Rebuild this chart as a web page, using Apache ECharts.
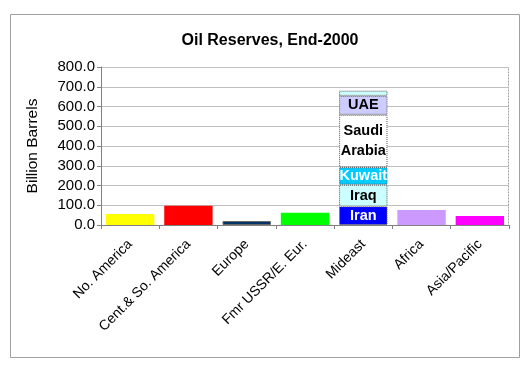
<!DOCTYPE html>
<html><head><meta charset="utf-8">
<script src="https://cdn.jsdelivr.net/npm/echarts@6/dist/echarts.min.js"></script>
<style>html,body{margin:0;padding:0;background:#fff}#c{width:528px;height:369px}</style>
</head><body><div id="c"></div>
<script>
var categories = ['No. America','Cent.& So. America','Europe','Fmr USSR/E. Eur.','Mideast','Africa','Asia/Pacific'];
var regionValues = [56, 98, 20, 62, null, 76, 45];
var regionColors = ['#ffff00','#ff0000','#003366','#00ff00',null,'#cc99ff','#ff00ff'];
var mideastNames = ['Iran','Iraq','Kuwait','Saudi\nArabia','UAE','Other'];
var mideastValues = [94, 110, 89, 265, 96, 26];
var mideastColors = ['#0000ff','#ccffff','#00ccff','#ffffff','#ccccff','#ccffff'];
var mideastLabelColors = ['#ffffff','#000000','#ffffff','#000000','#000000',null];
var yTicks = [0,100,200,300,400,500,600,700,800];

var chart = echarts.init(document.getElementById('c'));
var mideastIdx = categories.indexOf('Mideast');
var series = [{
  type:'bar', stack:'s', barCategoryGap:'17%',
  data: regionValues.map(function(v,i){
    return v===null ? '-' : {value:v, itemStyle:{color:regionColors[i], borderColor: i===2?'#666':'transparent', borderWidth: i===2?1:0}};
  })
}];
mideastNames.forEach(function(n,k){
  var d = categories.map(function(c,i){ return i===mideastIdx ? mideastValues[k] : '-'; });
  series.push({
    type:'bar', stack:'s', name:n, barCategoryGap:'17%',
    itemStyle:{color:mideastColors[k], borderColor:'#555', borderWidth:1, borderType:'dotted'},
    label:{show: mideastLabelColors[k]!==null, position:'inside', formatter:n, color:mideastLabelColors[k]||'#000',
      fontFamily:'Liberation Sans, Arial', fontWeight:'bold', fontSize:14.5, lineHeight:20},
    data:d
  });
});

chart.setOption({
  animation:false,
  title:{text:'Oil Reserves, End-2000', left:265, top:28, textAlign:'center',
    textStyle:{fontFamily:'Liberation Sans, Arial', fontSize:16, fontWeight:'bold', color:'#000'}},
  graphic:[{type:'rect', shape:{x:10.5,y:14.5,width:509,height:343}, style:{fill:'none', stroke:'#a0a0a0', lineWidth:1}, z:-1},
           {type:'rect', shape:{x:101.5,y:67.5,width:407,height:158}, style:{fill:'none', stroke:'#a0a0a0', lineWidth:1, lineDash:[2,1]}, z:-1}],
  grid:{left:101, right:19, top:67, bottom:144},
  xAxis:{type:'category', data:categories,
    axisLine:{lineStyle:{color:'#808080'}},
    axisTick:{show:true, alignWithLabel:false, length:4, lineStyle:{color:'#808080'}},
    axisLabel:{rotate:45, interval:0, margin:17, fontFamily:'Liberation Sans, Arial', fontSize:14, color:'#000'}},
  yAxis:{type:'value', min:yTicks[0], max:yTicks[yTicks.length-1], interval:100,
    name:'Billion Barrels', nameLocation:'middle', nameGap:60, nameRotate:90,
    nameTextStyle:{fontFamily:'Liberation Sans, Arial', fontSize:15.5, color:'#000'},
    axisLine:{show:true, lineStyle:{color:'#808080'}},
    axisTick:{show:true, length:4, lineStyle:{color:'#808080'}},
    splitLine:{lineStyle:{color:'#c0c0c0', width:1}},
    axisLabel:{formatter:function(v){return v.toFixed(1);}, fontFamily:'Liberation Sans, Arial', fontSize:15, color:'#000', margin:6}},
  series:series
});
</script></body></html>
